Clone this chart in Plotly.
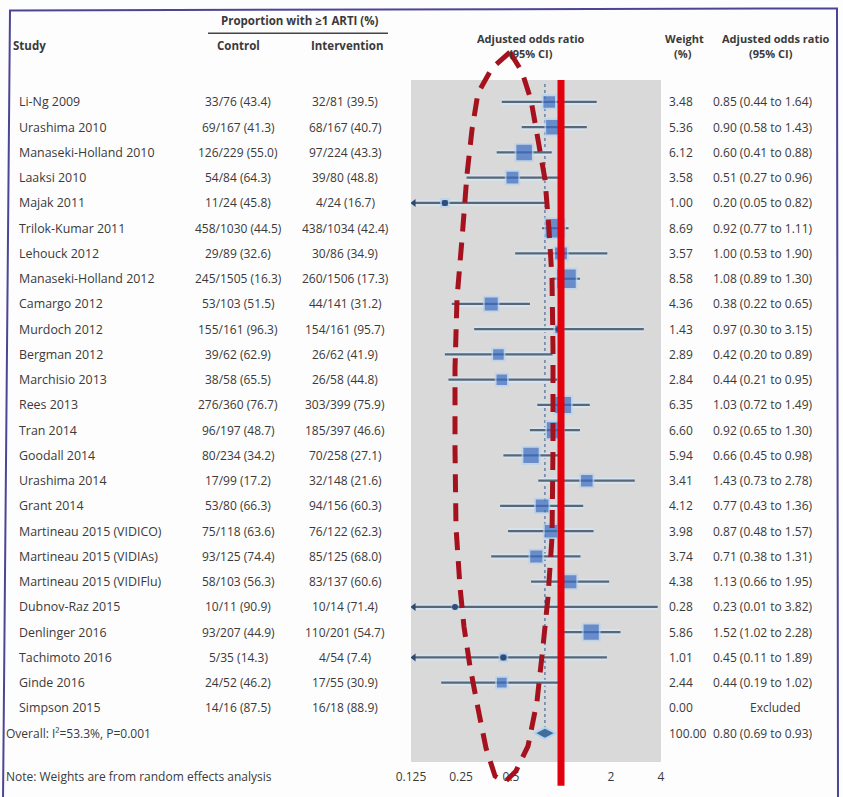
import math
import plotly.graph_objects as go

# ---------------- data ----------------
studies = ["Li-Ng 2009", "Urashima 2010", "Manaseki-Holland 2010", "Laaksi 2010", "Majak 2011",
           "Trilok-Kumar 2011", "Lehouck 2012", "Manaseki-Holland 2012", "Camargo 2012", "Murdoch 2012",
           "Bergman 2012", "Marchisio 2013", "Rees 2013", "Tran 2014", "Goodall 2014", "Urashima 2014",
           "Grant 2014", "Martineau 2015 (VIDICO)", "Martineau 2015 (VIDIAs)", "Martineau 2015 (VIDIFlu)",
           "Dubnov-Raz 2015", "Denlinger 2016", "Tachimoto 2016", "Ginde 2016", "Simpson 2015"]
control = ["33/76 (43.4)", "69/167 (41.3)", "126/229 (55.0)", "54/84 (64.3)", "11/24 (45.8)",
           "458/1030 (44.5)", "29/89 (32.6)", "245/1505 (16.3)", "53/103 (51.5)", "155/161 (96.3)",
           "39/62 (62.9)", "38/58 (65.5)", "276/360 (76.7)", "96/197 (48.7)", "80/234 (34.2)",
           "17/99 (17.2)", "53/80 (66.3)", "75/118 (63.6)", "93/125 (74.4)", "58/103 (56.3)",
           "10/11 (90.9)", "93/207 (44.9)", "5/35 (14.3)", "24/52 (46.2)", "14/16 (87.5)"]
intervention = ["32/81 (39.5)", "68/167 (40.7)", "97/224 (43.3)", "39/80 (48.8)", "4/24 (16.7)",
                "438/1034 (42.4)", "30/86 (34.9)", "260/1506 (17.3)", "44/141 (31.2)", "154/161 (95.7)",
                "26/62 (41.9)", "26/58 (44.8)", "303/399 (75.9)", "185/397 (46.6)", "70/258 (27.1)",
                "32/148 (21.6)", "94/156 (60.3)", "76/122 (62.3)", "85/125 (68.0)", "83/137 (60.6)",
                "10/14 (71.4)", "110/201 (54.7)", "4/54 (7.4)", "17/55 (30.9)", "16/18 (88.9)"]
weights = [3.48, 5.36, 6.12, 3.58, 1.00, 8.69, 3.57, 8.58, 4.36, 1.43, 2.89, 2.84, 6.35, 6.60,
           5.94, 3.41, 4.12, 3.98, 3.74, 4.38, 0.28, 5.86, 1.01, 2.44, 0.00]
odds = [0.85, 0.90, 0.60, 0.51, 0.20, 0.92, 1.00, 1.08, 0.38, 0.97, 0.42, 0.44, 1.03, 0.92,
        0.66, 1.43, 0.77, 0.87, 0.71, 1.13, 0.23, 1.52, 0.45, 0.44, None]
ci_low = [0.44, 0.58, 0.41, 0.27, 0.05, 0.77, 0.53, 0.89, 0.22, 0.30, 0.20, 0.21, 0.72, 0.65,
          0.45, 0.73, 0.43, 0.48, 0.38, 0.66, 0.01, 1.02, 0.11, 0.19, None]
ci_high = [1.64, 1.43, 0.88, 0.96, 0.82, 1.11, 1.90, 1.30, 0.65, 3.15, 0.89, 0.95, 1.49, 1.30,
           0.98, 2.78, 1.36, 1.57, 1.31, 1.95, 3.82, 2.28, 1.89, 1.02, None]
overall_or = 0.80
overall_low = 0.69
overall_high = 0.93
overall_weight = 100.00
overall_label = "Overall: I²=53.3%, P=0.001"
tick_vals = [0.125, 0.25, 0.5, 1, 2, 4]
tick_text = ["0.125", "0.25", "0.5", "1", "2", "4"]

# ---------------- layout helpers ----------------
W, H = 843, 797
L, R, T, B = 411, 182, 80, 31
PW, PH = W - L - R, H - T - B
FONT = "Open Sans"
TXT = "#3a3a3a"


def px(x):
    return (x - L) / PW


def py(y):
    return (H - B - y) / PH


n = len(studies)
rows = list(range(n))
overall_row = n
x_min, x_max = 0.125, 4.0
clip_low = 0.13

fig = go.Figure()

# CI lines (halo + line)
cx, cy, arrows_x, arrows_y = [], [], [], []
for i in rows:
    if odds[i] is None:
        continue
    lo = max(ci_low[i], clip_low)
    hi = min(ci_high[i], x_max)
    cx += [lo, hi, None]
    cy += [i, i, None]
    if ci_low[i] < clip_low:
        arrows_x.append(clip_low)
        arrows_y.append(i)

fig.add_trace(go.Scatter(x=cx, y=cy, mode="lines", line=dict(color="#d3e3f2", width=6),
                         hoverinfo="skip", showlegend=False))
fig.add_trace(go.Scatter(x=cx, y=cy, mode="lines", line=dict(color="#5a6672", width=2.2),
                         hoverinfo="skip", showlegend=False))
fig.add_trace(go.Scatter(x=arrows_x, y=arrows_y, mode="markers",
                         marker=dict(symbol="triangle-left", size=7, color="#2d4a73"),
                         hoverinfo="skip", showlegend=False))

# weight boxes
bx = [odds[i] for i in rows if odds[i] is not None]
by = [i for i in rows if odds[i] is not None]
bs = [6.4 * math.sqrt(weights[i]) + 1.5 for i in rows if odds[i] is not None]
fig.add_trace(go.Scatter(x=bx, y=by, mode="markers",
                         marker=dict(symbol="square", size=bs, color="#3a6cc2",
                                     line=dict(color="#b5d2ef", width=1.8)),
                         hoverinfo="skip", showlegend=False))
# point estimate dots for small-weight studies (boxes too small to see)
dx = [odds[i] for i in rows if odds[i] is not None and weights[i] < 1.5]
dy = [i for i in rows if odds[i] is not None and weights[i] < 1.5]
fig.add_trace(go.Scatter(x=dx, y=dy, mode="markers",
                         marker=dict(symbol="circle", size=6, color="#2f4c78"),
                         hoverinfo="skip", showlegend=False))

# overall diamond
hh = 0.22
fig.add_trace(go.Scatter(x=[overall_low, overall_or, overall_high, overall_or, overall_low],
                         y=[overall_row, overall_row - hh, overall_row, overall_row + hh, overall_row],
                         mode="lines", fill="toself", fillcolor="#3f6e9c",
                         line=dict(color="#b5d2ef", width=2), hoverinfo="skip", showlegend=False))

shapes = []
# dotted overall line
shapes.append(dict(type="line", xref="x", yref="paper", x0=overall_or, x1=overall_or,
                   y0=py(84), y1=py(732), line=dict(color="#6880a8", width=1.5, dash="dot"),
                   layer="below"))
# thick red null line
shapes.append(dict(type="line", xref="x", yref="paper", x0=1, x1=1, y0=1, y1=py(790),
                   line=dict(color="#e3000d", width=7), layer="above"))
# red dashed hand-drawn ellipse
pts = [(510, 52), (522, 72), (531, 100), (538, 140), (545, 180), (549, 230), (552, 280),
       (553, 350), (553, 450), (552, 540), (548, 600), (543, 650), (537, 705), (528, 750),
       (516, 775), (505, 786), (495, 780), (486, 752), (478, 712), (470, 670), (464, 630),
       (460, 590), (456, 530), (455, 450), (455, 370), (457, 300), (462, 240), (467, 175),
       (472, 130), (478, 93), (492, 68), (510, 52)]
path = "M " + " L ".join(f"{px(a):.4f},{py(b):.4f}" for a, b in pts)
shapes.append(dict(type="path", xref="paper", yref="paper", path=path,
                   line=dict(color="#a5121e", width=5, dash="18px,11px"), layer="above"))
# header underline
shapes.append(dict(type="line", xref="paper", yref="paper", x0=px(208), x1=px(388),
                   y0=py(33), y1=py(33), line=dict(color="#444", width=1.5)))
# frame (bottom edge falls outside the picture)
frame = [(10, 10), (837, 8), (838, 806), (3, 806)]
shapes.append(dict(type="path", xref="paper", yref="paper",
                   path="M " + " L ".join(f"{px(a):.4f},{py(b):.4f}" for a, b in frame) + " Z",
                   line=dict(color="#4c4596", width=2)))

ann = []


def text(x, y, s, anchor="left", bold=False, yref="y", size=12):
    ann.append(dict(x=px(x), y=y if yref == "y" else py(y), xref="paper", yref=yref,
                    text=f"<b>{s}</b>" if bold else s,
                    showarrow=False, xanchor=anchor, yanchor="middle", borderpad=0,
                    font=dict(family=FONT, size=size, color=TXT)))


# headers
text(300, 20, "Proportion with ≥1 ARTI (%)", "center", True, "paper", 11.5)
text(12, 45, "Study", "left", True, "paper", 11.5)
text(238, 45, "Control", "center", True, "paper", 11.5)
text(347, 45, "Intervention", "center", True, "paper", 11.5)
text(531, 38, "Adjusted odds ratio", "center", True, "paper", 11)
text(531, 53, "(95% CI)", "center", True, "paper", 11)
text(684, 38, "Weight", "center", True, "paper", 11)
text(683, 53, "(%)", "center", True, "paper", 11)
text(776, 38, "Adjusted odds ratio", "center", True, "paper", 11)
text(771, 53, "(95% CI)", "center", True, "paper", 11)

for i in rows:
    text(18, i, studies[i], size=12.4)
    text(238, i, control[i], "center")
    text(345, i, intervention[i], "center")
    text(668, i, f"{weights[i]:.2f}")
    if odds[i] is None:
        text(775, i, "Excluded", "center")
    else:
        text(712, i, f"{odds[i]:.2f} ({ci_low[i]:.2f} to {ci_high[i]:.2f})")

text(5, overall_row, overall_label)
text(668, overall_row, f"{overall_weight:.2f}")
text(712, overall_row, f"{overall_or:.2f} ({overall_low:.2f} to {overall_high:.2f})")
text(5, 781, "Note: Weights are from random effects analysis", "left", False, "paper")

fig.update_layout(
    width=W, height=H,
    margin=dict(l=L, r=R, t=T, b=B, pad=0),
    paper_bgcolor="#fdfdfd", plot_bgcolor="#d9d9d9",
    shapes=shapes, annotations=ann, showlegend=False,
    font=dict(family=FONT, size=12, color=TXT),
)
fig.update_xaxes(type="log", range=[math.log10(x_min), math.log10(x_max)], tickvals=tick_vals,
                 ticktext=tick_text, showgrid=False, zeroline=False, showline=False, ticks="",
                 ticklabelstandoff=6, tickfont=dict(family=FONT, size=12, color=TXT), fixedrange=True)
fig.update_yaxes(range=[overall_row + 1.14, -0.87], visible=False, showgrid=False, zeroline=False,
                 fixedrange=True)

fig.write_html("out.html", config={"displayModeBar": False},
               post_script="document.body.style.margin='0px';document.body.style.overflow='hidden';")
